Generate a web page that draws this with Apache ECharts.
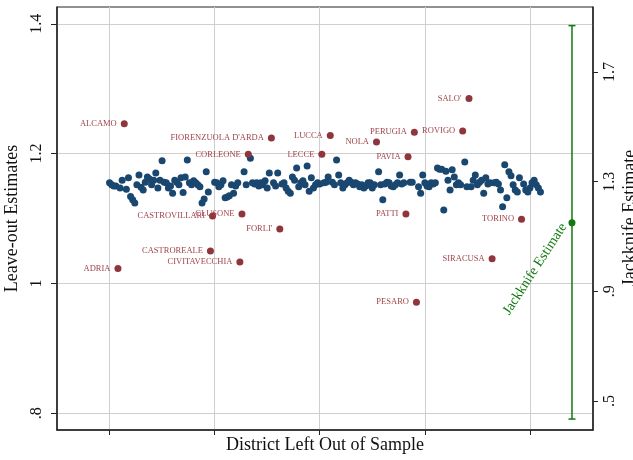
<!DOCTYPE html>
<html>
<head>
<meta charset="utf-8">
<script src="https://cdn.jsdelivr.net/npm/echarts@6/dist/echarts.min.js"></script>
<style>
html,body{margin:0;padding:0;background:#fff;}
#chart{width:633px;height:460px;}
</style>
</head>
<body>
<div id="chart"></div>
<script>
// Leave-out estimates, one per district (districts in alphabetical order, index 0..205)
const leaveOutEstimates = [
  1.155,1.152,1.150,1.150,1.023,1.147,1.159,1.246,1.145,1.163,
  1.134,1.129,1.124,1.152,1.167,1.148,1.144,1.156,1.164,1.161,
  1.152,1.159,1.170,1.147,1.159,1.189,1.156,1.155,1.147,1.150,
  1.139,1.159,1.156,1.152,1.163,1.140,1.164,1.190,1.155,1.152,
  1.158,1.155,1.152,1.149,1.124,1.130,1.172,1.141,1.050,1.104,
  1.156,1.155,1.149,1.152,1.158,1.132,1.133,1.135,1.152,1.139,
  1.150,1.155,1.033,1.107,1.172,1.152,1.199,1.193,1.155,1.153,
  1.155,1.150,1.155,1.152,1.158,1.147,1.170,1.224,1.155,1.150,
  1.170,1.084,1.153,1.155,1.147,1.142,1.139,1.164,1.159,1.178,
  1.149,1.155,1.158,1.152,1.181,1.142,1.163,1.147,1.152,1.155,
  1.153,1.199,1.155,1.156,1.164,1.228,1.156,1.152,1.190,1.167,
  1.155,1.147,1.152,1.155,1.159,1.156,1.152,1.155,1.153,1.149,
  1.152,1.147,1.150,1.155,1.155,1.147,1.152,1.218,1.172,1.152,
  1.129,1.153,1.156,1.155,1.150,1.149,1.152,1.155,1.167,1.153,
  1.155,1.107,1.195,1.156,1.156,1.233,0.971,1.149,1.139,1.167,
  1.155,1.150,1.149,1.155,1.153,1.155,1.178,1.176,1.176,1.113,
  1.173,1.159,1.144,1.175,1.164,1.152,1.155,1.152,1.235,1.187,
  1.149,1.285,1.149,1.159,1.167,1.152,1.156,1.159,1.139,1.163,
  1.153,1.155,1.038,1.155,1.156,1.153,1.144,1.118,1.183,1.132,
  1.172,1.166,1.152,1.144,1.141,1.163,1.099,1.153,1.144,1.141,
  1.147,1.155,1.159,1.152,1.147,1.141
];
// Labeled (outlying) districts
const labeledIndex = [4,7,48,49,62,63,66,77,81,101,105,127,141,142,145,146,168,171,182,196];
const labeledNames = ["ADRIA","ALCAMO","CASTROREALE","CASTROVILLARI","CIVITAVECCHIA","CLUSONE","CORLEONE",
  "FIORENZUOLA D'ARDA","FORLI'","LECCE","LUCCA","NOLA","PATTI","PAVIA","PERUGIA","PESARO","ROVIGO","SALO'","SIRACUSA","TORINO"];
// Jackknife estimate with interval (right axis)
const jackknifeEstimate = 1.15;
const jackknifeLow = 0.434;
const jackknifeHigh = 1.869;
const jackknifeX = 220;
// Axis ticks
const xTicks = [0,50,100,150,200];
const leftTicks = [0.8,1.0,1.2,1.4];
const rightTicks = [0.5,0.9,1.3,1.7];

const BLUE = '#1a476f', RED = '#90353b', GREEN = '#107a10';
const FONT = 'Liberation Serif';

const labeledSet = new Set(labeledIndex);
const blueData = [];
leaveOutEstimates.forEach((v,i)=>{ if(!labeledSet.has(i)) blueData.push([i,v]); });
const redData = labeledIndex.map((idx,k)=>({value:[idx, leaveOutEstimates[idx]], name: labeledNames[k]}));

const chart = echarts.init(document.getElementById('chart'), null, {renderer:'canvas'});
const fmt = v => { let s = (+v.toFixed(2)).toString(); if (s.startsWith('0.')) s = s.slice(1); return s; };

chart.setOption({
  animation:false,
  backgroundColor:'#fff',
  textStyle:{fontFamily:FONT},
  grid:{left:57,right:40,top:7,bottom:30,show:true,borderColor:'#222',borderWidth:1,
    containLabel:false,outerBoundsMode:'none'},
  xAxis:{
    type:'value',min:-25,max:230,
    name:'District Left Out of Sample',nameLocation:'middle',nameGap:6,
    nameTextStyle:{fontFamily:FONT,fontSize:18,color:'#111',verticalAlign:'top'},
    axisLine:{show:true,onZero:false,lineStyle:{color:'#222',width:1.5}},
    axisTick:{show:true,length:5,customValues:xTicks,lineStyle:{color:'#222'}},
    axisLabel:{show:false,customValues:xTicks},
    splitLine:{show:true,lineStyle:{color:'#cfcfcf',width:1}}
  },
  yAxis:[{
    type:'value',min:0.774,max:1.426,position:'left',
    name:'Leave-out Estimates',nameLocation:'middle',nameGap:30,nameRotate:90,
    nameTextStyle:{fontFamily:FONT,fontSize:18,color:'#111'},
    axisLine:{show:true,onZero:false,lineStyle:{color:'#222',width:1.5}},
    axisTick:{show:true,length:6,customValues:leftTicks,lineStyle:{color:'#222'}},
    axisLabel:{show:true,rotate:90,customValues:leftTicks,formatter:fmt,fontFamily:FONT,fontSize:16,color:'#111',margin:12},
    splitLine:{show:true,lineStyle:{color:'#cfcfcf',width:1}}
  },{
    type:'value',min:0.394,max:1.937,position:'right',
    axisLine:{show:true,onZero:false,lineStyle:{color:'#222',width:1.5}},
    axisTick:{show:true,length:5,customValues:rightTicks,lineStyle:{color:'#222'}},
    axisLabel:{show:true,rotate:90,customValues:rightTicks,formatter:fmt,fontFamily:FONT,fontSize:16,color:'#111',margin:9},
    splitLine:{show:false}
  }],
  series:[{
    type:'scatter',xAxisIndex:0,yAxisIndex:0,data:blueData,symbolSize:7,
    itemStyle:{color:BLUE,opacity:1},z:3
  },{
    type:'scatter',xAxisIndex:0,yAxisIndex:0,data:redData,symbolSize:7,
    itemStyle:{color:RED,opacity:1},z:4,
    label:{show:true,position:'left',distance:4,formatter:p=>p.name,
      fontFamily:FONT,fontSize:8.5,color:'#a0454b'}
  },{
    type:'custom',xAxisIndex:0,yAxisIndex:1,
    data:[[jackknifeX,jackknifeLow,jackknifeHigh]],
    encode:{x:0,y:[1,2]},z:5,
    renderItem:(params,api)=>{
      const x=api.value(0), lo=api.value(1), hi=api.value(2);
      const a=api.coord([x,lo]), b=api.coord([x,hi]);
      const c=3.5, st={stroke:GREEN,lineWidth:1.5};
      return {type:'group',children:[
        {type:'line',shape:{x1:a[0],y1:a[1],x2:b[0],y2:b[1]},style:st},
        {type:'line',shape:{x1:a[0]-c,y1:a[1],x2:a[0]+c,y2:a[1]},style:st},
        {type:'line',shape:{x1:b[0]-c,y1:b[1],x2:b[0]+c,y2:b[1]},style:st}
      ]};
    }
  },{
    type:'scatter',xAxisIndex:0,yAxisIndex:1,data:[[jackknifeX,jackknifeEstimate]],
    symbolSize:7,itemStyle:{color:GREEN,opacity:1},z:6
  }],
  graphic:[{
    type:'text',x:535,y:269,rotation:57*Math.PI/180,z:10,
    style:{text:'Jackknife Estimate',fill:GREEN,font:'14px "Liberation Serif"',align:'center',verticalAlign:'middle'}
  },{
    type:'text',x:630,y:218,rotation:Math.PI/2,z:10,
    style:{text:'Jackknife Estimate',fill:'#111',font:'18px "Liberation Serif"',align:'center',verticalAlign:'middle'}
  }]
});
</script>
</body>
</html>
